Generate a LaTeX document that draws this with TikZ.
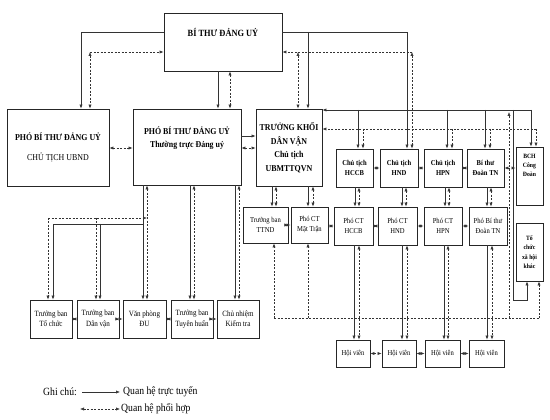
\documentclass[tikz,border=0pt]{standalone}
\usepackage{fontspec}
\setmainfont{Liberation Serif}[FakeStretch=0.88]
\usetikzlibrary{arrows.meta}
\begin{document}
\begin{tikzpicture}[x=1pt,y=-1pt,
 box/.style={draw=black!85, line width=0.8pt, inner sep=0pt, align=center, fill=white},
 ln/.style={draw=black!80, line width=0.6pt},
 sa/.style={ln, -{Latex[length=4pt,width=3.2pt]}},
 dsh/.style={ln, dash pattern=on 2pt off 1.5pt},
 da/.style={dsh, {Latex[length=4pt,width=3.2pt]}-{Latex[length=4pt,width=3.2pt]}},
 dh/.style={dsh, -{Latex[length=4pt,width=3.2pt]}},
 big/.style={font=\fontsize{9}{13.5}\selectfont},
 sm/.style={font=\fontsize{7.5}{10}\selectfont},
 smb/.style={font=\fontsize{7.5}{10}\selectfont\bfseries},
 lg/.style={anchor=west,inner sep=0pt,font=\fontsize{11}{12}\selectfont},
 ]
\useasboundingbox[fill=white] (0,0) rectangle (550,420);

% ---------- boxes ----------
\node[box,big,font=\fontsize{9.5}{12}\selectfont\bfseries,minimum width=118pt,minimum height=58pt] (bt) at (223,42) {BÍ THƯ ĐẢNG UỶ\\[8pt]};
\node[box,big,minimum width=102pt,minimum height=77pt] (pbt1) at (58,147.5) {\textbf{PHÓ BÍ THƯ ĐẢNG UỶ}\\[7pt]CHỦ TỊCH UBND};
\node[box,big,minimum width=108pt,minimum height=76pt] (pbt2) at (187,147) {\textbf{PHÓ BÍ THƯ ĐẢNG UỶ}\\\textbf{Thường trực Đảng uỷ}\\[6pt]};
\node[box,big,font=\fontsize{9}{13.5}\selectfont\bfseries,minimum width=66pt,minimum height=77pt] (tk) at (289,147.5) {TRƯỞNG KHỐI\\DÂN VẬN\\Chủ tịch\\UBMTTQVN};

\node[box,smb,minimum width=37pt,minimum height=38pt] (ct1) at (354.5,168) {Chủ tịch\\HCCB};
\node[box,smb,minimum width=38pt,minimum height=38pt] (ct2) at (399,168) {Chủ tịch\\HND};
\node[box,smb,minimum width=38pt,minimum height=38pt] (ct3) at (443,168) {Chủ tịch\\HPN};
\node[box,smb,minimum width=37pt,minimum height=38pt] (ct4) at (485.5,168) {Bí thư\\Đoàn TN};
\node[box,smb,font=\fontsize{6.5}{9}\selectfont\bfseries,minimum width=27pt,minimum height=58pt] (bch) at (529.5,176) {BCH\\Công\\Đoàn\\[12pt]};
\node[box,smb,font=\fontsize{6.5}{9.5}\selectfont\bfseries,minimum width=27pt,minimum height=58pt] (tcxh) at (529.5,252) {Tổ\\chức\\xã hội\\khác};

\node[box,sm,minimum width=45pt,minimum height=36pt] (ttnd) at (265.5,225) {Trưởng ban\\TTND};
\node[box,sm,minimum width=37pt,minimum height=36pt] (pmt) at (309.5,225) {Phó CT\\Mặt Trận};
\node[box,sm,minimum width=39pt,minimum height=38pt] (p1) at (353.5,226) {Phó CT\\HCCB};
\node[box,sm,minimum width=39pt,minimum height=38pt] (p2) at (397.5,226) {Phó CT\\HND};
\node[box,sm,minimum width=38pt,minimum height=38pt] (p3) at (443,226) {Phó CT\\HPN};
\node[box,sm,minimum width=38pt,minimum height=38pt] (p4) at (488,226) {Phó Bí thư\\Đoàn TN};

\node[box,sm,minimum width=34pt,minimum height=27pt] (hv1) at (353,353.5) {Hội viên};
\node[box,sm,minimum width=34pt,minimum height=27pt] (hv2) at (399,353.5) {Hội viên};
\node[box,sm,minimum width=35pt,minimum height=27pt] (hv3) at (442.5,353.5) {Hội viên};
\node[box,sm,minimum width=35pt,minimum height=27pt] (hv4) at (486.5,353.5) {Hội viên};

\node[box,sm,font=\fontsize{8}{10.5}\selectfont,minimum width=42pt,minimum height=38pt] (b1) at (51,319) {Trưởng ban\\Tổ chức};
\node[box,sm,font=\fontsize{8}{10.5}\selectfont,minimum width=42pt,minimum height=38pt] (b2) at (98,319) {Trưởng ban\\Dân vận};
\node[box,sm,font=\fontsize{8}{10.5}\selectfont,minimum width=43pt,minimum height=38pt] (b3) at (144.5,319) {Văn phòng\\ĐU};
\node[box,sm,font=\fontsize{8}{10.5}\selectfont,minimum width=42pt,minimum height=38pt] (b4) at (192,319) {Trưởng ban\\Tuyên huấn};
\node[box,sm,font=\fontsize{8}{10.5}\selectfont,minimum width=42pt,minimum height=38pt] (b5) at (238,319) {Chủ nhiệm\\Kiểm tra};

% ---------- coordinates ----------
\coordinate (cL) at (90,52);
\coordinate (cR) at (412,52);
\coordinate (busR) at (531,110);
\coordinate (busD) at (536,129);
\coordinate (busB) at (539,318);
\coordinate (r1) at (513,300);
\coordinate (r2) at (527,300);
\coordinate (L1) at (143,224);
\coordinate (L2) at (48,218);

% ---------- Bi thu connections ----------
\draw[sa] (bt.west |- 0,32) -| (pbt1.north -| 81,0);
\draw[dh] (cL) -- (bt.west |- cL);
\draw[da] (cL) -- (pbt1.north -| cL);
\draw[sa] (bt.south -| 218,0) -- (pbt2.north -| 218,0);
\draw[da] (bt.south -| 230,0) -- (pbt2.north -| 230,0);
\draw[sa] (bt.east |- 0,32) -| (ct2.north -| 407,0);
\draw[sa] (308,32) -- (tk.north -| 308,0);
\draw[dh] (cR) -- (bt.east |- cR);
\draw[da] (cR) -- (ct2.north -| cR);
\draw[da] (298,52) -- (tk.north -| 298,0);

% ---------- PBT links ----------
\draw[da] (pbt1.east |- 0,148) -- (pbt2.west |- 0,148);
\draw[sa] (pbt2.east |- 0,136) -- (tk.west |- 0,136);
\draw[da] (pbt2.east |- 0,148) -- (tk.west |- 0,148);

% ---------- right buses ----------
\draw[sa] (busR) -- (tk.east |- busR);
\draw[sa] (busR) -- (bch.north -| busR);
\draw[sa] (busR -| 358,0) -- (ct1.north -| 358,0);
\draw[sa] (busR -| 447,0) -- (ct3.north -| 447,0);
\draw[sa] (busR -| 485,0) -- (ct4.north -| 485,0);
\draw[sa] (busR -| r1) -- (r1) -- (r2) -- (tcxh.south -| r2);

\draw[dh] (busD) -- (tk.east |- busD);
\draw[dh] (busD) -- (bch.north -| busD);
\draw[dh] (busD -| 363,0) -- (ct1.north -| 363,0);
\draw[dh] (busD -| 452,0) -- (ct3.north -| 452,0);
\draw[dh] (busD -| 490,0) -- (ct4.north -| 490,0);

\draw[dsh] (busB -| 274,0) -- (busB);
\draw[dh] (busB -| 274,0) -- (ttnd.south -| 274,0);
\draw[dh] (busB -| 308,0) -- (pmt.south -| 308,0);
\draw[dh] (busB) -- (tcxh.south -| busB);
\draw[dh] (busB -| 509,0) -- (509,112);

% ---------- row links ----------
\draw[da] (ct1.east) -- (ct2.west);
\draw[da] (ct2.east) -- (ct3.west);
\draw[da] (ct3.east) -- (ct4.west);
\draw[da] (ct4.east) -- (bch.west |- ct4.east);

\draw[da] (ttnd.east) -- (pmt.west);
\draw[da] (pmt.east |- p1.west) -- (p1.west);
\draw[da] (p1.east) -- (p2.west);
\draw[da] (p2.east) -- (p3.west);
\draw[da] (p3.east) -- (p4.west);

\draw[da] (hv1.east) -- (hv2.west);
\draw[da] (hv2.east) -- (hv3.west);
\draw[da] (hv3.east) -- (hv4.west);

\draw[da] (b1.east) -- (b2.west);
\draw[da] (b2.east) -- (b3.west);
\draw[da] (b3.east) -- (b4.west);
\draw[da] (b4.east) -- (b5.west);

% ---------- vertical links ----------
\draw[sa] (tk.south -| 272,0) -- (ttnd.north -| 272,0);
\draw[da] (tk.south -| 276,0) -- (ttnd.north -| 276,0);
\draw[sa] (tk.south -| 308,0) -- (pmt.north -| 308,0);
\draw[da] (tk.south -| 313,0) -- (pmt.north -| 313,0);

\draw[sa] (ct1.south -| 355,0) -- (p1.north -| 355,0);
\draw[da] (ct1.south -| 359,0) -- (p1.north -| 359,0);
\draw[sa] (ct2.south -| 402,0) -- (p2.north -| 402,0);
\draw[da] (ct2.south -| 406,0) -- (p2.north -| 406,0);
\draw[sa] (ct3.south -| 445,0) -- (p3.north -| 445,0);
\draw[da] (ct3.south -| 449,0) -- (p3.north -| 449,0);
\draw[sa] (ct4.south -| 487,0) -- (p4.north -| 487,0);
\draw[da] (ct4.south -| 491,0) -- (p4.north -| 491,0);

\draw[sa] (p1.south -| 354,0) -- (hv1.north -| 354,0);
\draw[da] (p1.south -| 359,0) -- (hv1.north -| 359,0);
\draw[sa] (p2.south -| 402,0) -- (hv2.north -| 402,0);
\draw[da] (p2.south -| 407,0) -- (hv2.north -| 407,0);
\draw[sa] (p3.south -| 444,0) -- (hv3.north -| 444,0);
\draw[da] (p3.south -| 448,0) -- (hv3.north -| 448,0);
\draw[sa] (p4.south -| 487,0) -- (hv4.north -| 487,0);
\draw[da] (p4.south -| 492,0) -- (hv4.north -| 492,0);

% ---------- PBT2 to lower-left ----------
\draw[sa] (pbt2.south -| L1) -- (b3.north -| L1);
\draw[da] (pbt2.south -| 147,0) -- (b3.north -| 147,0);
\draw[sa] (L1) -| (b1.north -| 53,0);
\draw[sa] (L1 -| 100,0) -- (b2.north -| 100,0);
\draw[dh] (L2) -- (L2 -| 147,0);
\draw[dh] (L2) -- (b1.north -| L2);
\draw[dh] (L2 -| 96,0) -- (b2.north -| 96,0);
\draw[sa] (pbt2.south -| 190,0) -- (b4.north -| 190,0);
\draw[da] (pbt2.south -| 194,0) -- (b4.north -| 194,0);
\draw[sa] (pbt2.south -| 235,0) -- (b5.north -| 235,0);
\draw[da] (pbt2.south -| 239,0) -- (b5.north -| 239,0);

% ---------- legend ----------
\node[lg] (gc) at (43,392) {Ghi chú:};
\node[lg] (l1) at (123,392) {Quan hệ trực tuyến};
\node[lg] (l2) at (121,409) {Quan hệ phối hợp};
\draw[sa] (gc.east -| 82,0) -- ([xshift=-3pt]l1.west);
\draw[da] (l2.west -| 80,0) -- ([xshift=-1pt]l2.west);
\end{tikzpicture}
\end{document}
